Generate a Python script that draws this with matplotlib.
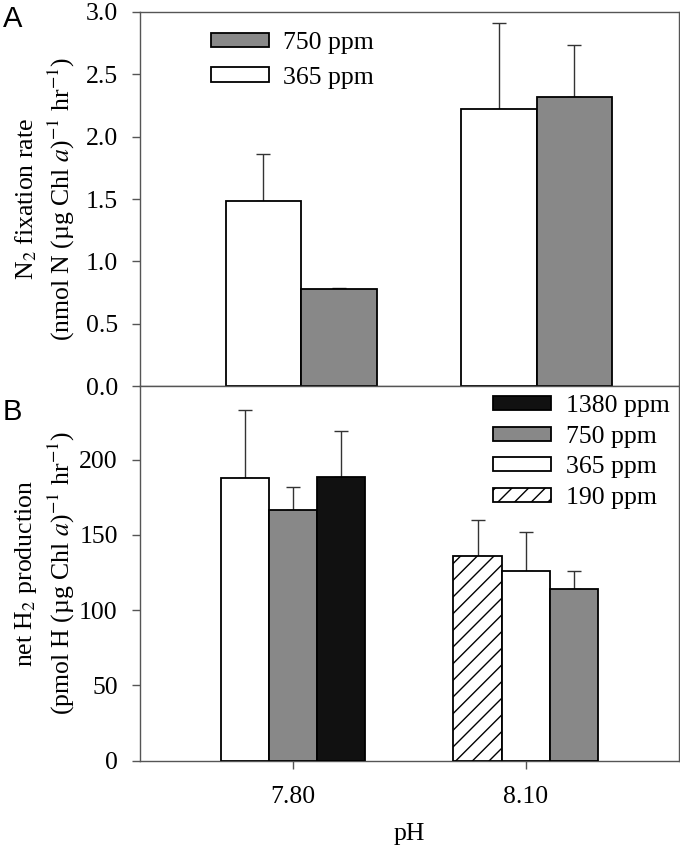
import numpy as np
import matplotlib
matplotlib.use("Agg")
import matplotlib.pyplot as plt
from matplotlib.patches import Patch

plt.rcParams["font.family"] = ["Liberation Serif", "DejaVu Serif"]
plt.rcParams["mathtext.fontset"] = "stix"
plt.rcParams["hatch.linewidth"] = 1.0

# --- Panel A: N2 fixation ---
ph_labels = ["7.80", "8.10"]
a_series = ["365 ppm", "750 ppm"]
a_vals = {"365 ppm": [1.48, 2.22], "750 ppm": [0.775, 2.315]}
a_err = {"365 ppm": [0.38, 0.69], "750 ppm": [0.01, 0.42]}

# --- Panel B: net H2 production ---
b_vals_780 = {"365 ppm": 188.1, "750 ppm": 166.6, "1380 ppm": 188.7}
b_err_780 = {"365 ppm": 44.8, "750 ppm": 15.0, "1380 ppm": 30.3}
b_vals_810 = {"190 ppm": 135.8, "365 ppm": 126.1, "750 ppm": 114.1}
b_err_810 = {"190 ppm": 24.0, "365 ppm": 26.0, "750 ppm": 12.2}

sty = {
    "1380 ppm": dict(color="#111111", hatch=None),
    "750 ppm": dict(color="#888888", hatch=None),
    "365 ppm": dict(color="white", hatch=None),
    "190 ppm": dict(color="white", hatch="//"),
}

spine_c = "#555555"
fs = 18.5

fig = plt.figure(figsize=(6.8, 8.46), dpi=100)
L, W = 140 / 680, 539 / 680
axA = fig.add_axes([L, 1 - 386 / 846, W, (386 - 12) / 846])
axB = fig.add_axes([L, 1 - 760.7 / 846, W, (760.7 - 386) / 846], sharex=axA)

err_kw = dict(ecolor="#333333", elinewidth=1.0, capsize=5, capthick=1.0)

# Panel A bars
wA = 0.325
centA = np.array([0.035, 1.047])
for i, s in enumerate(a_series):
    x = centA + (i - 0.5) * wA
    axA.bar(x, a_vals[s], wA, color=sty[s]["color"], edgecolor="black",
            linewidth=1.3, zorder=3)
    axA.errorbar(x, a_vals[s], yerr=[np.zeros(2), a_err[s]], fmt="none",
                 zorder=2, **err_kw)

# Panel B bars
wB = 0.207
for cx, vals, errs in [(0, b_vals_780, b_err_780), (1, b_vals_810, b_err_810)]:
    for j, s in enumerate(vals):
        x = cx + (j - 1) * wB
        axB.bar(x, vals[s], wB, color=sty[s]["color"], hatch=sty[s]["hatch"],
                edgecolor="black", linewidth=1.3, zorder=3)
        axB.errorbar(x, vals[s], yerr=[[0], [errs[s]]], fmt="none",
                     zorder=2, **err_kw)

axA.set_xlim(-0.658, 1.659)
axA.set_ylim(0, 3.0)
axB.set_ylim(0, 249)

ticksA = np.arange(0, 3.01, 0.5)
axA.set_yticks(ticksA)
axA.set_yticklabels([f"{v:.1f}" for v in ticksA])
axB.set_yticks(np.arange(0, 201, 50))
axB.set_xticks([0, 1])
axB.set_xticklabels(ph_labels)
axA.tick_params(axis="x", bottom=False, labelbottom=False)

for ax in (axA, axB):
    for sp in ax.spines.values():
        sp.set_color(spine_c)
        sp.set_linewidth(1.0)
    ax.tick_params(direction="out", length=6, width=1.0, color=spine_c,
                   labelsize=fs, pad=10)
axB.tick_params(axis="x", pad=12)

axA.set_ylabel("N$_2$ fixation rate\n(nmol N (\u00b5g Chl $a$)$^{-1}$ hr$^{-1}$)",
               fontsize=fs, linespacing=1.3)
axB.set_ylabel("net H$_2$ production\n(pmol H (\u00b5g Chl $a$)$^{-1}$ hr$^{-1}$)",
               fontsize=fs, linespacing=1.3)
axA.yaxis.set_label_coords(-0.117, 0.5)
axB.yaxis.set_label_coords(-0.117, 0.5)
axB.set_xlabel("pH", fontsize=fs, labelpad=11)


def handle(s):
    return Patch(facecolor=sty[s]["color"], edgecolor="black", hatch=sty[s]["hatch"],
                 linewidth=1.3, label=s)


axA.legend(handles=[handle("750 ppm"), handle("365 ppm")], loc="upper left",
           bbox_to_anchor=(0.132, 0.947), frameon=False, fontsize=fs,
           handlelength=2.25, handleheight=0.47, handletextpad=0.55,
           labelspacing=0.5, borderpad=0, borderaxespad=0)
axB.legend(handles=[handle(s) for s in ["1380 ppm", "750 ppm", "365 ppm", "190 ppm"]],
           loc="upper left", bbox_to_anchor=(0.655, 0.975), frameon=False,
           fontsize=fs, handlelength=2.25, handleheight=0.47, handletextpad=0.6,
           labelspacing=0.33, borderpad=0, borderaxespad=0)

fig.text(3 / 680, 1 - 5 / 846, "A", family="Liberation Sans", fontsize=21,
         va="top", ha="left")
fig.text(3 / 680, 1 - 398 / 846, "B", family="Liberation Sans", fontsize=21,
         va="top", ha="left")

fig.savefig("out.png", dpi=100)
